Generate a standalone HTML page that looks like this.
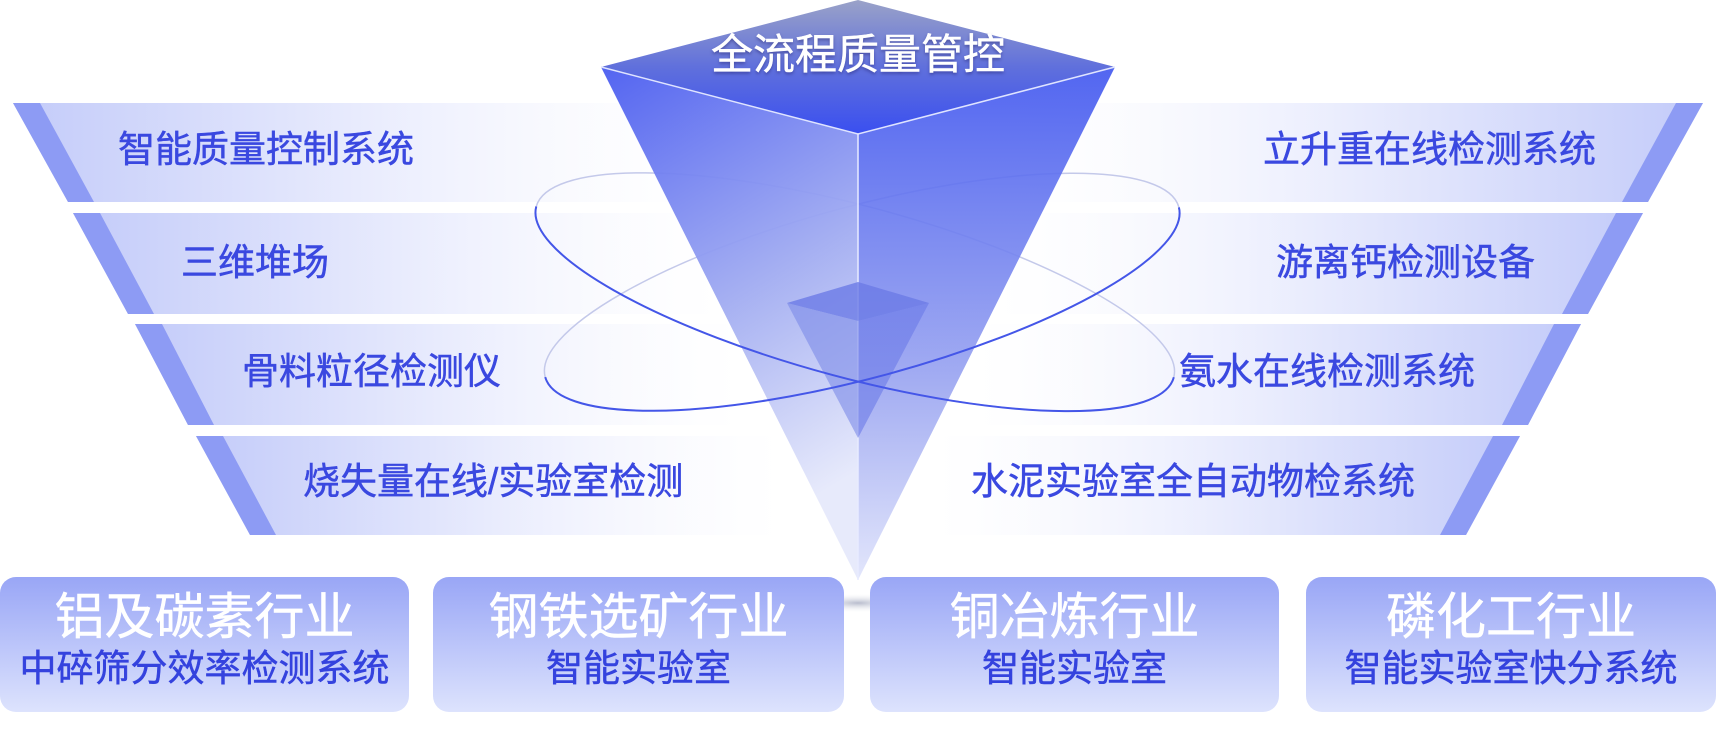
<!DOCTYPE html>
<html><head><meta charset="utf-8"><style>
html,body{margin:0;padding:0;background:#fff;}
body{width:1716px;height:748px;position:relative;overflow:hidden;font-family:"Liberation Sans","Noto Sans CJK SC",sans-serif;}
.t{position:absolute;color:#3a48e0;font-size:37px;line-height:44px;white-space:nowrap;-webkit-text-stroke:0.5px #3a48e0;}
.box{position:absolute;top:577px;height:135px;border-radius:16px;background:linear-gradient(#99a6f6,#dde3fd);text-align:center;}
.box .a{color:#fff;font-size:50px;line-height:54px;margin-top:13px;-webkit-text-stroke:0.5px #fff;}
.box .b{color:#3442de;font-size:37px;line-height:42px;margin-top:4px;-webkit-text-stroke:0.5px #3442de;}
</style></head><body>
<svg width="1716" height="748" style="position:absolute;left:0;top:0">
<defs>
<linearGradient id="gl" x1="0" x2="1" y1="0" y2="0">
<stop offset="0" stop-color="#c3cbf9"/><stop offset="0.5" stop-color="#e8ebfd"/><stop offset="1" stop-color="#f6f7fe" stop-opacity="0"/></linearGradient>
<linearGradient id="gr" x1="1" x2="0" y1="0" y2="0">
<stop offset="0" stop-color="#c3cbf9"/><stop offset="0.5" stop-color="#e8ebfd"/><stop offset="1" stop-color="#f6f7fe" stop-opacity="0"/></linearGradient>
<linearGradient id="pl" x1="0" y1="0" x2="0.3" y2="1">
<stop offset="0" stop-color="#4a5cf0"/><stop offset="0.6" stop-color="#a8b2f2"/><stop offset="1" stop-color="#e6e9fb"/></linearGradient>
<linearGradient id="pr" x1="0" y1="0" x2="0" y2="1">
<stop offset="0" stop-color="#3f55ef"/><stop offset="0.6" stop-color="#97a2f0"/><stop offset="1" stop-color="#dfe3fb"/></linearGradient>
<linearGradient id="top" x1="0" y1="0" x2="0" y2="1">
<stop offset="0" stop-color="#9aa2c8"/><stop offset="0.5" stop-color="#6070dc"/><stop offset="1" stop-color="#3a4ff0"/></linearGradient>
<radialGradient id="sh"><stop offset="0" stop-color="#9aa0b8" stop-opacity="0.7"/><stop offset="1" stop-color="#fff" stop-opacity="0"/></radialGradient>
<clipPath id="ca"><polygon points="400,170 1300,411 1300,748 400,748"/></clipPath>
<clipPath id="cb"><polygon points="400,416 1300,175 1300,748 400,748"/></clipPath>
</defs>
<!-- left bands -->
<polygon points="13,103 700,103 700,202 68,202" fill="url(#gl)"/>
<polygon points="13,103 40,103 94,202 68,202" fill="#8d9bf4"/>
<polygon points="73,213 720,213 720,314 128,314" fill="url(#gl)"/>
<polygon points="73,213 100,213 154,314 128,314" fill="#8d9bf4"/>
<polygon points="135,324 740,324 740,425 188,425" fill="url(#gl)"/>
<polygon points="135,324 162,324 214,425 188,425" fill="#8d9bf4"/>
<polygon points="196,436 780,436 780,535 250,535" fill="url(#gl)"/>
<polygon points="196,436 223,436 276,535 250,535" fill="#8d9bf4"/>
<!-- right bands -->
<polygon points="1703,103 1016,103 1016,202 1648,202" fill="url(#gr)"/>
<polygon points="1703,103 1676,103 1622,202 1648,202" fill="#8d9bf4"/>
<polygon points="1643,213 996,213 996,314 1588,314" fill="url(#gr)"/>
<polygon points="1643,213 1616,213 1562,314 1588,314" fill="#8d9bf4"/>
<polygon points="1581,324 976,324 976,425 1528,425" fill="url(#gr)"/>
<polygon points="1581,324 1554,324 1502,425 1528,425" fill="#8d9bf4"/>
<polygon points="1520,436 936,436 936,535 1466,535" fill="url(#gr)"/>
<polygon points="1520,436 1493,436 1440,535 1466,535" fill="#8d9bf4"/>
<!-- back orbits -->
<ellipse cx="855" cy="292" rx="330" ry="86" transform="rotate(15 855 292)" fill="none" stroke="#c4c9ea" stroke-width="1.5"/>
<ellipse cx="862" cy="292" rx="328" ry="86" transform="rotate(-15 862 292)" fill="none" stroke="#c4c9ea" stroke-width="1.5"/>
<!-- shadow -->
<ellipse cx="858" cy="603" rx="60" ry="10" fill="url(#sh)"/>
<!-- prism -->
<polygon points="601,67 858,134 858,580" fill="url(#pl)" opacity="0.95"/>
<polygon points="1115,67 858,134 858,580" fill="url(#pr)" opacity="0.9"/>
<polygon points="601,67 858,0 1115,67 858,134" fill="url(#top)"/>
<polyline points="601,67 858,134 1115,67" fill="none" stroke="#dfe4ff" stroke-width="1.5"/>
<line x1="858" y1="134" x2="858" y2="580" stroke="#e8ebff" stroke-width="1.5"/>
<!-- inner prism -->
<polygon points="787,303 858,282 929,303 858,321" fill="#6c7ae6" opacity="0.8"/>
<polygon points="787,303 858,321 858,438" fill="#7c8ae8" opacity="0.6"/>
<polygon points="929,303 858,321 858,438" fill="#6a7ae8" opacity="0.6"/>
<!-- front orbits -->
<g clip-path="url(#ca)"><ellipse cx="855" cy="292" rx="330" ry="86" transform="rotate(15 855 292)" fill="none" stroke="#4456e8" stroke-width="2"/></g>
<g clip-path="url(#cb)"><ellipse cx="862" cy="292" rx="328" ry="86" transform="rotate(-15 862 292)" fill="none" stroke="#4456e8" stroke-width="2"/></g>
</svg>
<div style="position:absolute;left:600px;top:30px;width:516px;text-align:center;color:#fff;font-size:42px;line-height:50px;-webkit-text-stroke:0.5px #fff;text-shadow:0 2px 3px rgba(40,40,120,.6);">全流程质量管控</div>
<div class="t" style="left:118px;top:128px">智能质量控制系统</div>
<div class="t" style="left:181px;top:241px">三维堆场</div>
<div class="t" style="left:242px;top:350px">骨料粒径检测仪</div>
<div class="t" style="left:303px;top:460px">烧失量在线/实验室检测</div>
<div class="t" style="right:120px;top:128px">立升重在线检测系统</div>
<div class="t" style="right:181px;top:241px">游离钙检测设备</div>
<div class="t" style="right:241px;top:350px">氨水在线检测系统</div>
<div class="t" style="right:301px;top:460px">水泥实验室全自动物检系统</div>
<div class="box" style="left:0;width:409px"><div class="a">铝及碳素行业</div><div class="b">中碎筛分效率检测系统</div></div>
<div class="box" style="left:433px;width:411px"><div class="a">钢铁选矿行业</div><div class="b">智能实验室</div></div>
<div class="box" style="left:870px;width:409px"><div class="a">铜冶炼行业</div><div class="b">智能实验室</div></div>
<div class="box" style="left:1306px;width:410px"><div class="a">磷化工行业</div><div class="b">智能实验室快分系统</div></div>
</body></html>
